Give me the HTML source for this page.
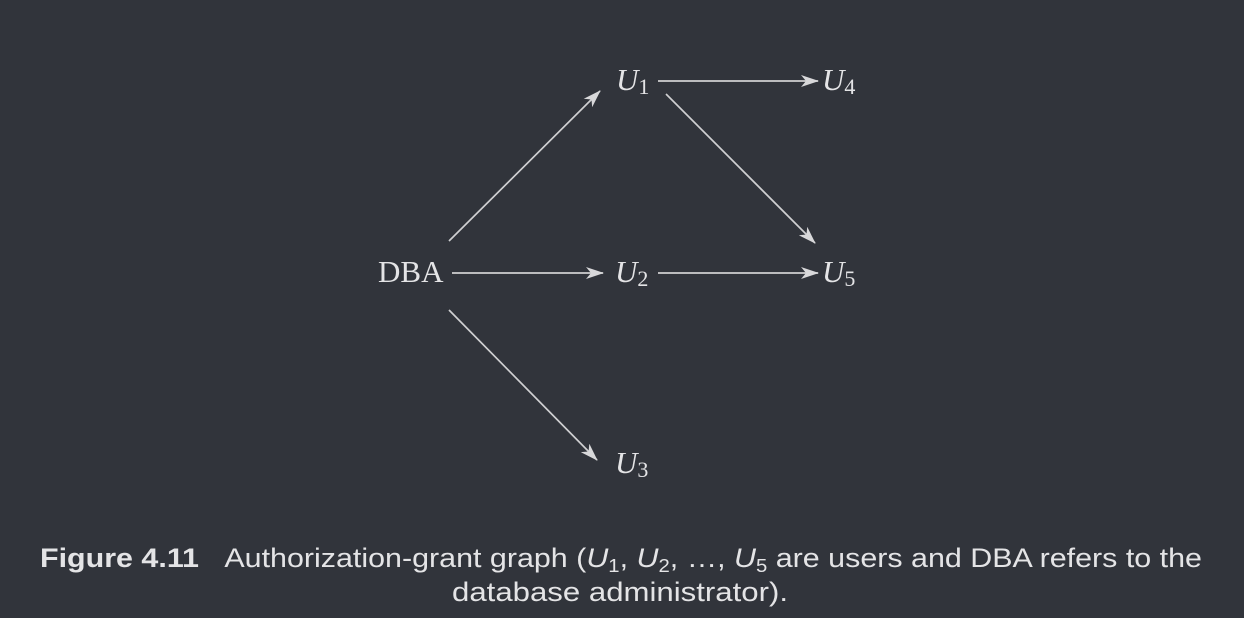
<!DOCTYPE html>
<html><head><meta charset="utf-8"><style>
html,body{margin:0;padding:0;background:#31343b;}
svg{display:block}
.s{font-family:"Liberation Serif",serif;fill:#e4e4e6;font-size:31px}
.i{font-style:italic}
.sub{font-size:22px}
.c{font-family:"Liberation Sans",sans-serif;fill:#e4e4e6;font-size:27px}
</style></head><body>
<svg width="1244" height="618" viewBox="0 0 1244 618" xmlns="http://www.w3.org/2000/svg">
<defs><marker id="a" markerWidth="18" markerHeight="12" refX="17" refY="6" orient="auto" markerUnits="userSpaceOnUse"><path d="M0,0 L18,6 L0,12 L5,6 Z" fill="#d8d8da"/></marker></defs>
<g stroke="#d0d0d2" stroke-width="1.7" fill="none" marker-end="url(#a)">
<line x1="452" y1="273" x2="603" y2="273"/>
<line x1="658" y1="273" x2="818" y2="273"/>
<line x1="658" y1="81" x2="818" y2="81"/>
<line x1="449" y1="241" x2="600" y2="91"/>
<line x1="666" y1="94" x2="815" y2="243"/>
<line x1="449" y1="310" x2="597" y2="460"/>
</g>
<text class="s" x="378" y="282">DBA</text>
<text class="s" x="616" y="90"><tspan class="i">U</tspan><tspan class="sub" dy="4">1</tspan></text>
<text class="s" x="822" y="90"><tspan class="i">U</tspan><tspan class="sub" dy="4">4</tspan></text>
<text class="s" x="615" y="282"><tspan class="i">U</tspan><tspan class="sub" dy="4">2</tspan></text>
<text class="s" x="822" y="282"><tspan class="i">U</tspan><tspan class="sub" dy="4">5</tspan></text>
<text class="s" x="615" y="473"><tspan class="i">U</tspan><tspan class="sub" dy="4">3</tspan></text>
<text class="c" x="40" y="567" textLength="1162" lengthAdjust="spacingAndGlyphs"><tspan font-weight="bold">Figure 4.11</tspan>&#160;&#160;&#160;Authorization-grant graph (<tspan font-style="italic">U</tspan><tspan font-size="18" dy="5">1</tspan><tspan dy="-5">, </tspan><tspan font-style="italic">U</tspan><tspan font-size="18" dy="5">2</tspan><tspan dy="-5">, …, </tspan><tspan font-style="italic">U</tspan><tspan font-size="18" dy="5">5</tspan><tspan dy="-5"> are users and DBA refers to the</tspan></text>
<text class="c" x="452" y="601" textLength="336" lengthAdjust="spacingAndGlyphs">database administrator).</text>
</svg>
</body></html>
